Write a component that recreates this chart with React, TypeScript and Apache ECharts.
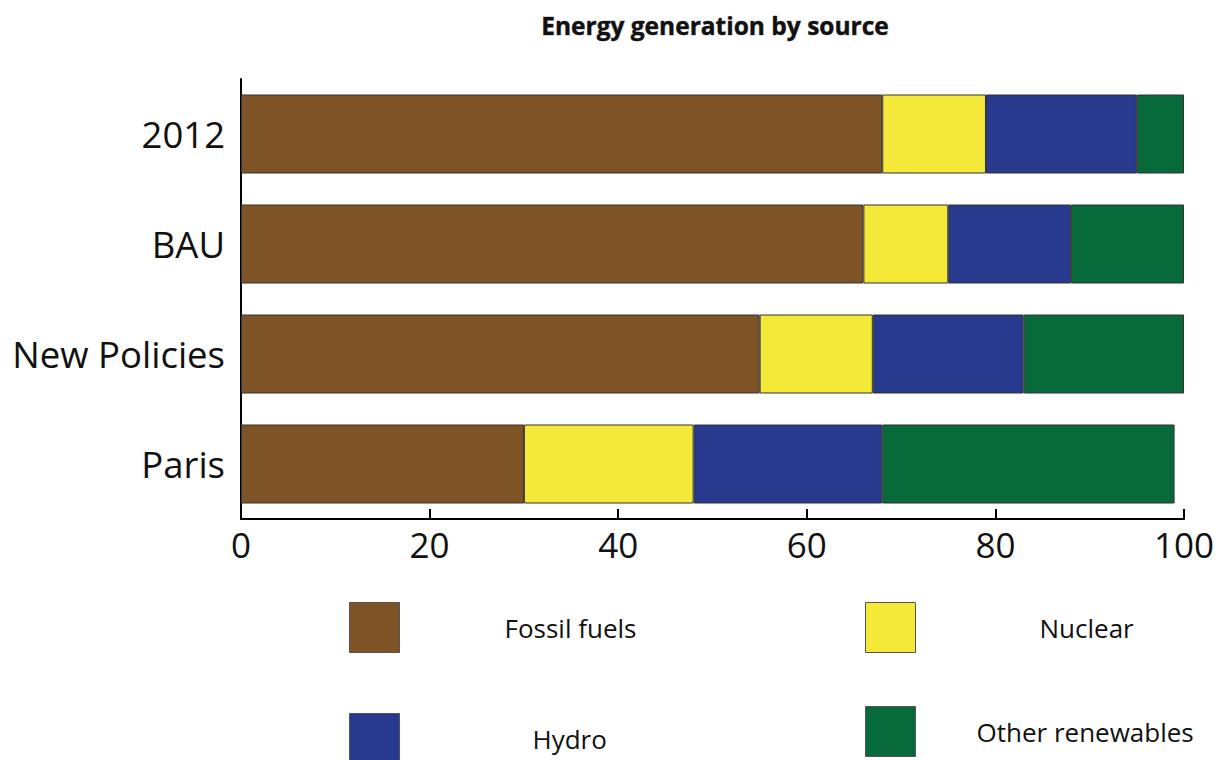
import React, { useEffect, useRef } from "react";
import * as echarts from "echarts";

// Scenarios shown on the vertical axis, top to bottom
const scenarios = ["2012", "BAU", "New Policies", "Paris"];

// Share of generation (%) per source, one value per scenario
const fossilFuels = [68, 66, 55, 30];
const nuclear = [11, 9, 12, 18];
const hydro = [16, 13, 16, 20];
const otherRenewables = [5, 12, 17, 31];

const sourceNames = ["Fossil fuels", "Nuclear", "Hydro", "Other renewables"];
const sourceColors = ["#7E5426", "#F4E838", "#283A8E", "#076A3A"];
const sourceValues = [fossilFuels, nuclear, hydro, otherRenewables];

const FONT = "'Open Sans', 'Noto Sans', sans-serif";

export default function App() {
  const ref = useRef<HTMLDivElement>(null);

  useEffect(() => {
    if (!ref.current) return;
    const chart = echarts.init(ref.current, undefined, { renderer: "svg" });

    const legendSpots = [
      { left: 349, top: 602, pad: 100 },
      { left: 865, top: 602, pad: 119 },
      { left: 349, top: 713, pad: 128 },
      { left: 865, top: 706, pad: 56 },
    ];

    chart.setOption({
      animation: false,
      backgroundColor: "#ffffff",
      title: {
        text: "Energy generation by source",
        left: 710,
        top: 8,
        textAlign: "center",
        textStyle: {
          fontFamily: FONT,
          fontSize: 24.5,
          fontWeight: "bold",
          color: "#111",
          textBorderColor: "#666",
          textBorderWidth: 0.6,
        },
      },
      legend: sourceNames.map((name, i) => ({
        data: [name],
        left: legendSpots[i].left,
        top: legendSpots[i].top,
        padding: 0,
        icon: "rect",
        itemWidth: 50,
        itemHeight: 50,
        selectedMode: false,
        itemStyle: { borderColor: "#555", borderWidth: 1 },
        textStyle: {
          fontFamily: FONT,
          fontSize: 26,
          color: "#111",
          padding: [0, 0, 0, legendSpots[i].pad],
        },
      })),
      grid: { left: 241, right: 37, top: 79, bottom: 241, containLabel: false },
      xAxis: {
        type: "value",
        min: 0,
        max: 100,
        interval: 20,
        axisLine: { show: true, lineStyle: { color: "#000", width: 2 } },
        axisTick: { show: true, inside: true, length: 10, lineStyle: { color: "#000", width: 2 } },
        splitLine: { show: false },
        axisLabel: { fontFamily: FONT, fontSize: 35, color: "#111", margin: 8 },
      },
      yAxis: {
        type: "category",
        data: scenarios,
        inverse: true,
        axisLine: { show: true, lineStyle: { color: "#000", width: 2 } },
        axisTick: { show: false },
        axisLabel: { fontFamily: FONT, fontSize: 36.5, color: "#111", margin: 16 },
      },
      series: sourceNames.map((name, i) => ({
        name,
        type: "bar",
        stack: "total",
        data: sourceValues[i],
        barWidth: 79,
        itemStyle: { color: sourceColors[i], borderColor: "#333", borderWidth: 1 },
      })),
    });

    return () => chart.dispose();
  }, []);

  return (
    <div
      ref={ref}
      style={{ position: "fixed", left: 0, top: 0, width: 1221, height: 760 }}
    />
  );
}
